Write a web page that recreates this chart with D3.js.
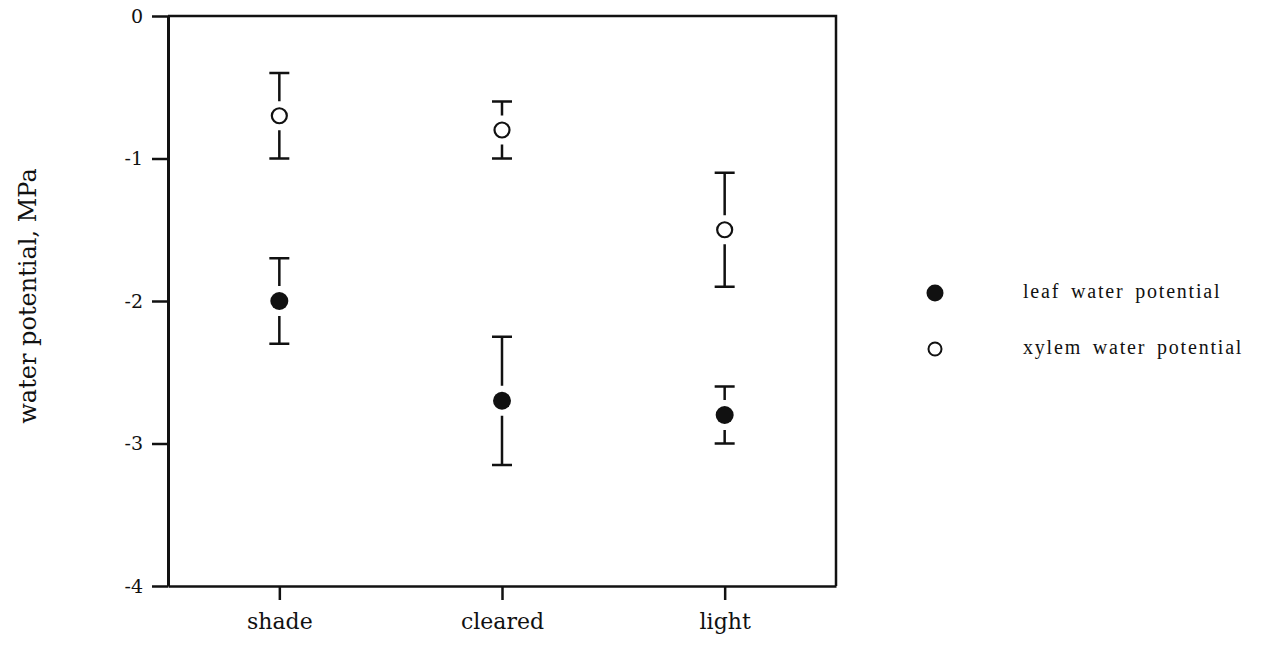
<!DOCTYPE html>
<html>
<head>
<meta charset="utf-8">
<script src="https://cdn.jsdelivr.net/npm/d3@7"></script>
<style>
  html, body { margin: 0; padding: 0; background: #fff; }
  svg { display: block; }
</style>
</head>
<body>
<svg id="chart" width="1262" height="645"></svg>
<script>
// Sites along the light gradient
const categories = ["shade", "cleared", "light"];

// Mean water potential (MPa) and error half-widths per site
const leafMean  = [-2.0, -2.7, -2.8];
const leafErr   = [0.3, 0.45, 0.2];
const xylemMean = [-0.7, -0.8, -1.5];
const xylemErr  = [0.3, 0.2, 0.4];

// Axis ticks
const yTicks = [0, -1, -2, -3, -4];
const yTickLabels = ["0", "-1", "-2", "-3", "-4"];

const seriesNames = ["leaf water potential", "xylem water potential"];

const svg = d3.select("#chart");
const plotLeft = 168, plotRight = 836, plotTop = 16, plotBottom = 586;

const x = d3.scalePoint().domain(categories).range([plotLeft, plotRight]).padding(0.5);
const y = d3.scaleLinear().domain([0, -4]).range([plotTop, plotBottom]);

const ink = "#111";
const serif = "'DejaVu Serif', serif";

// Y axis
const yAxis = svg.append("g")
  .attr("transform", `translate(${plotLeft},0)`)
  .call(d3.axisLeft(y).tickValues(yTicks)
    .tickFormat((d, i) => yTickLabels[i])
    .tickSize(16).tickSizeOuter(0).tickPadding(9));
yAxis.select(".domain").attr("stroke", ink).attr("stroke-width", 3);
yAxis.selectAll(".tick line").attr("stroke", ink).attr("stroke-width", 2.5);
yAxis.selectAll(".tick text").attr("fill", ink)
  .style("font-family", serif).style("font-size", "19px");

// X axis
const xAxis = svg.append("g")
  .attr("transform", `translate(0,${plotBottom})`)
  .call(d3.axisBottom(x).tickSize(14).tickSizeOuter(0).tickPadding(13));
xAxis.select(".domain").attr("stroke", ink).attr("stroke-width", 2.5);
xAxis.selectAll(".tick line").attr("stroke", ink).attr("stroke-width", 2.5);
xAxis.selectAll(".tick text").attr("fill", ink)
  .style("font-family", serif).style("font-size", "22px");

// Top and right frame edges
svg.append("path")
  .attr("d", `M${plotLeft},${y(0)}H${plotRight}V${y(-4)}`)
  .attr("fill", "none").attr("stroke", ink).attr("stroke-width", 2.5);

// Y axis title
svg.append("text")
  .attr("transform", `translate(36,${(plotTop + plotBottom) / 2 - 5}) rotate(-90)`)
  .attr("text-anchor", "middle")
  .attr("fill", ink)
  .style("font-family", serif).style("font-size", "24px")
  .text("water potential, MPa");

// Error bars with a small gap around each marker, then the markers
const capHalf = 10, gap = 6;
function drawSeries(means, errs, r, filled) {
  const g = svg.append("g");
  categories.forEach((c, i) => {
    const cx = x(c), cy = y(means[i]);
    const yHi = y(means[i] + errs[i]), yLo = y(means[i] - errs[i]);
    const path = d3.path();
    path.moveTo(cx - capHalf, yHi); path.lineTo(cx + capHalf, yHi);
    path.moveTo(cx, yHi); path.lineTo(cx, Math.max(yHi, cy - r - gap));
    path.moveTo(cx, Math.min(yLo, cy + r + gap)); path.lineTo(cx, yLo);
    path.moveTo(cx - capHalf, yLo); path.lineTo(cx + capHalf, yLo);
    g.append("path").attr("d", path.toString())
      .attr("fill", "none").attr("stroke", ink).attr("stroke-width", 2.5);
    g.append("circle")
      .attr("cx", cx).attr("cy", cy)
      .attr("r", filled ? r : r - 1)
      .attr("fill", filled ? ink : "#fff")
      .attr("stroke", ink).attr("stroke-width", filled ? 0 : 2.2);
  });
}
drawSeries(xylemMean, xylemErr, 8.5, false);
drawSeries(leafMean, leafErr, 9, true);

// Legend
const legend = svg.append("g");
const legendY = [293, 349];
seriesNames.forEach((name, i) => {
  legend.append("circle")
    .attr("cx", 935).attr("cy", legendY[i])
    .attr("r", i === 0 ? 8.5 : 6.5)
    .attr("fill", i === 0 ? ink : "#fff")
    .attr("stroke", ink).attr("stroke-width", i === 0 ? 0 : 2);
  legend.append("text")
    .attr("x", 1023).attr("y", legendY[i] + 5)
    .attr("fill", ink)
    .style("font-family", "'Liberation Serif', 'Times New Roman', serif")
    .style("font-size", "20px")
    .style("letter-spacing", "1.8px")
    .style("word-spacing", "4px")
    .text(name);
});
</script>
</body>
</html>
